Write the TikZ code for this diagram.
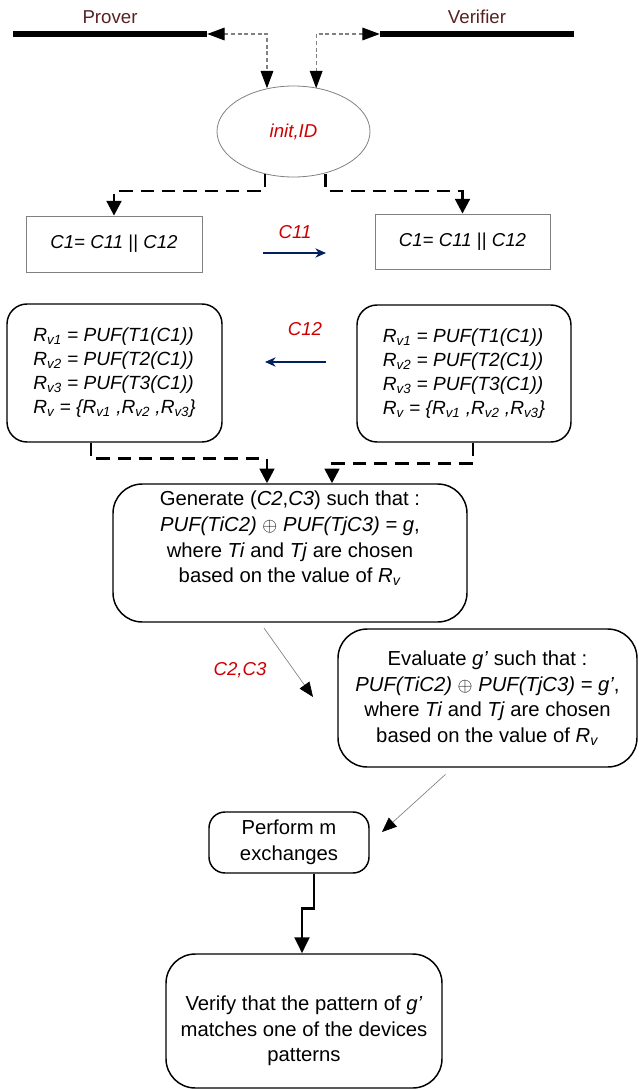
\documentclass[tikz,border=0pt]{standalone}
\usepackage{fontspec}
\setmainfont{Liberation Sans}
\usetikzlibrary{positioning,shapes.geometric,arrows.meta,calc}

\definecolor{rolebrown}{RGB}{88,33,33}
\definecolor{msgred}{RGB}{204,0,0}
\definecolor{msgblue}{RGB}{0,32,96}

\begin{document}
\begin{tikzpicture}[x=0.75pt, y=-0.75pt,
  every node/.style={font=\fontsize{14}{18.5}\selectfont},
  steptext/.style={font=\fontsize{15.2}{19.2}\selectfont},
  rolebar/.style={fill=black, minimum width=145.5pt, minimum height=5pt, inner sep=0pt},
  thinbox/.style={draw=gray, line width=0.6pt, inner sep=0pt},
  roundbox/.style={draw, line width=1.1pt, rounded corners=15pt, inner sep=0pt, align=center},
  msglabel/.style={text=msgred, font=\fontsize{14}{18.5}\selectfont\itshape},
  topdash/.style={draw=gray, line width=0.8pt, dash pattern=on 3pt off 2pt,
    {Triangle[length=13pt,width=9.5pt,color=black]}-{Triangle[length=13pt,width=9.5pt,color=black]}},
  flowdash/.style={line width=2pt, dash pattern=on 10pt off 6pt, -{Triangle[length=11pt,width=11pt]}},
  msgarrow/.style={draw=msgblue, line width=0.8pt, -{Stealth[length=8pt,width=7pt]}},
  thinarrow/.style={draw=gray, line width=0.5pt, -{Triangle[length=11pt,width=9pt,color=black]}}]

  \useasboundingbox (0,0) rectangle (639,1089);

  % Prover and Verifier lines
  \node (prover) [text=rolebrown] at (110,17) {Prover};
  \node (verifier) [text=rolebrown] at (477,17) {Verifier};
  \node (proverbar) [rolebar] at (110,34) {};
  \node (verifierbar) [rolebar] at (477,34) {};

  % Start of the protocol
  \node (init) [ellipse, thinbox, minimum width=114.75pt, minimum height=68.25pt, msglabel] at (293.5,131.5) {init,ID};
  \draw[topdash] (proverbar.east) -| ([xshift=-19.9pt,yshift=-2pt]init.north);
  \draw[topdash] (verifierbar.west) -| ([xshift=17pt,yshift=-2pt]init.north);

  % Splitting C1
  \node (c1p) [thinbox, minimum width=132pt, minimum height=42pt] at (114,244) {\textit{C1}= \textit{C11} || \textit{C12}};
  \node (c1v) [thinbox, minimum width=131.25pt, minimum height=41.25pt] at (462.5,241.5) {\textit{C1}= \textit{C11} || \textit{C12}};
  \draw[flowdash] ([xshift=-21.4pt,yshift=2.5pt]init.south) -- ++(0,17) -| (c1p.north);
  \draw[flowdash] ([xshift=24pt,yshift=2.5pt]init.south) -- ++(0,17) -| (c1v.north);

  % Exchange of C11
  \node (c11) [msglabel] at (295,232) {C11};
  \coordinate (c11from) at (263,253);
  \coordinate (c11to) at (326,253);
  \draw[msgarrow] (c11from) -- (c11to);

  % Responses on both sides
  \node (rvp) [roundbox, align=left, minimum width=161.25pt, minimum height=103.5pt,
    font=\fontsize{14.3}{18}\selectfont\itshape] at (114.5,373) {R\textsubscript{v1} = PUF(T1(C1))\\R\textsubscript{v2} = PUF(T2(C1))\\R\textsubscript{v3} = PUF(T3(C1))\\R\textsubscript{v} = \{R\textsubscript{v1} ,R\textsubscript{v2} ,R\textsubscript{v3}\}};
  \node (rvv) [roundbox, align=left, minimum width=160.5pt, minimum height=102.75pt,
    font=\fontsize{14.3}{18}\selectfont\itshape] at (464,373.5) {R\textsubscript{v1} = PUF(T1(C1))\\R\textsubscript{v2} = PUF(T2(C1))\\R\textsubscript{v3} = PUF(T3(C1))\\R\textsubscript{v} = \{R\textsubscript{v1} ,R\textsubscript{v2} ,R\textsubscript{v3}\}};

  % Exchange of C12
  \node (c12) [msglabel] at (305,329) {C12};
  \coordinate (c12from) at (326,362);
  \coordinate (c12to) at (265,362);
  \draw[msgarrow] (c12from) -- (c12to);

  % Prover generates C2, C3
  \node (gen) [roundbox, rounded corners=22pt, minimum width=265.5pt, minimum height=103.5pt,
    label={[align=center, steptext, yshift=11pt]center:{Generate (\textit{C2},\textit{C3}) such that :\\\textit{PUF(TiC2)} $\oplus$ \textit{PUF(TjC3) = g},\\where \textit{Ti} and \textit{Tj} are chosen\\based on the value of \textit{R}\textsubscript{\textit{v}}}}] at (290,553) {};
  \draw[flowdash] ([xshift=-17.6pt]rvp.south) -- ++(0,16) -| ([xshift=-17.25pt]gen.north);
  \draw[flowdash] ([xshift=6.75pt]rvv.south) -- ++(0,21) -| ([xshift=31.5pt]gen.north);

  % Sending C2, C3
  \node (c23) [msglabel] at (240,670) {C2,C3};
  \coordinate (c23to) at (313,697);
  \draw[thinarrow] ([xshift=-19.5pt,yshift=-4pt]gen.south) -- (c23to);

  % Verifier evaluates g'
  \node (eval) [roundbox, steptext, rounded corners=22pt, minimum width=224.25pt, minimum height=103.5pt] at (487.5,698)
    {Evaluate \textit{g’} such that :\\\textit{PUF(TiC2)} $\oplus$ \textit{PUF(TjC3) = g’},\\where \textit{Ti} and \textit{Tj} are chosen\\based on the value of \textit{R}\textsubscript{\textit{v}}};

  % Repeated exchanges
  \node (perf) [roundbox, steptext, rounded corners=12pt, minimum width=120pt, minimum height=45.75pt] at (289,842.5) {Perform m\\exchanges};
  \coordinate (perfto) at (382,832);
  \draw[thinarrow] ([xshift=-31.5pt,yshift=-5pt]eval.south) -- (perfto);

  % Final check
  \node (verify) [roundbox, rounded corners=22pt, minimum width=207pt, minimum height=100.5pt,
    label={[align=center, steptext, yshift=-7.5pt]center:{Verify that the pattern of \textit{g’}\\matches one of the devices\\patterns}}] at (304,1021) {};
  \draw[line width=2.2pt, -{Triangle[length=12pt,width=11pt]}] ([xshift=18.75pt]perf.south) -- ++(0,35) -| ([xshift=-1.5pt]verify.north);

\end{tikzpicture}
\end{document}
